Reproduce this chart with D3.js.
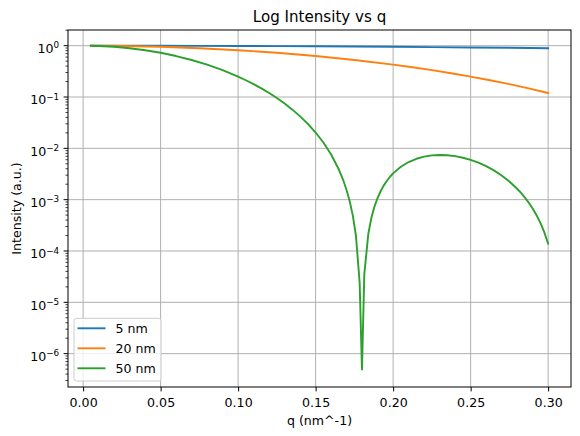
<!DOCTYPE html>
<html>
<head>
<meta charset="utf-8">
<script src="https://cdn.jsdelivr.net/npm/d3@7"></script>
<style>
  html, body { margin: 0; padding: 0; background: #ffffff; }
  svg { display: block; font-family: "DejaVu Sans", sans-serif; }
</style>
</head>
<body>
<svg id="chart" width="580" height="436"></svg>
<script>
// ---- data ----
const seriesNames = ["5 nm", "20 nm", "50 nm"];
const seriesColors = ["#1f77b4", "#ff7f0e", "#2ca02c"];

const q5 = [0.005, 0.025, 0.05, 0.075, 0.1, 0.125, 0.15, 0.175, 0.2, 0.225, 0.25, 0.275, 0.3];
const i5nm = [1.0000, 0.9992, 0.9969, 0.9930, 0.9876, 0.9806, 0.9722, 0.9623, 0.9511, 0.9384, 0.9244, 0.9092, 0.8928];

const q20 = [0.005, 0.025, 0.05, 0.075, 0.1, 0.125, 0.15, 0.175, 0.2, 0.2125, 0.225, 0.2375,
             0.25, 0.2625, 0.275, 0.2875, 0.3];
const i20nm = [0.9995, 0.9876, 0.9511, 0.8928, 0.8163, 0.7263, 0.6278, 0.5262, 0.4265, 0.3788, 0.3331, 0.2899,
               0.2495, 0.2120, 0.1778, 0.1470, 0.1195];

const q50 = [0.005, 0.01, 0.02, 0.03, 0.04, 0.05, 0.06, 0.07, 0.08, 0.09,
             0.10, 0.105, 0.11, 0.115, 0.12, 0.125, 0.13, 0.135, 0.14, 0.145,
             0.15, 0.155, 0.16, 0.165, 0.168, 0.17, 0.172, 0.174, 0.176, 0.1784,
             0.1799, 0.1814, 0.184, 0.186, 0.188, 0.19, 0.192, 0.194, 0.196, 0.198,
             0.20, 0.205, 0.21, 0.215, 0.22, 0.225, 0.23, 0.235, 0.24, 0.245,
             0.25, 0.255, 0.26, 0.265, 0.27, 0.275, 0.28, 0.2825, 0.285, 0.2875,
             0.29, 0.2925, 0.295, 0.2975, 0.30];
const i50nm = [0.9969, 0.9876, 0.9511, 0.8928, 0.8163, 0.7263, 0.6278, 0.5262, 0.4265, 0.3331,
               0.2495, 0.2120, 0.1778, 0.1470, 0.1195, 0.09535, 0.07448, 0.05673, 0.04194, 0.02988,
               0.02032, 0.01298, 0.007583, 0.003860, 0.002312, 0.001530, 9.279e-4, 4.895e-4, 1.991e-4, 2.42e-5,
               4.9e-7, 3.50e-5, 2.169e-4, 4.464e-4, 7.404e-4, 1.087e-3, 1.476e-3, 1.896e-3, 2.338e-3, 2.794e-3,
               3.255e-3, 4.385e-3, 5.409e-3, 6.259e-3, 6.890e-3, 7.279e-3, 7.424e-3, 7.336e-3, 7.038e-3, 6.565e-3,
               5.954e-3, 5.248e-3, 4.488e-3, 3.714e-3, 2.960e-3, 2.259e-3, 1.633e-3, 1.354e-3, 1.101e-3, 8.732e-4,
               6.726e-4, 4.991e-4, 3.528e-4, 2.332e-4, 1.396e-4];

const xTicks = [0.00, 0.05, 0.10, 0.15, 0.20, 0.25, 0.30];
const yTickExps = [0, -1, -2, -3, -4, -5, -6];

const titleText = "Log Intensity vs q";
const xLabelText = "q (nm^-1)";
const yLabelText = "Intensity (a.u.)";

// ---- layout ----
const plot = { left: 68, right: 571, top: 30, bottom: 387 };
const fontSize = 12.6, titleSize = 15.1;

const svg = d3.select("#chart");

const x = d3.scaleLinear().domain([-0.00975, 0.31475]).range([plot.left, plot.right]);
const y = d3.scaleLog().domain([2.24e-7, 2.02]).range([plot.bottom, plot.top]);

// grid
const grid = svg.append("g");
grid.selectAll("line.gx").data(xTicks).enter().append("line")
  .attr("x1", d => x(d)).attr("x2", d => x(d))
  .attr("y1", plot.top).attr("y2", plot.bottom)
  .attr("stroke", "#b0b0b0").attr("stroke-width", 1);
grid.selectAll("line.gy").data(yTickExps).enter().append("line")
  .attr("x1", plot.left).attr("x2", plot.right)
  .attr("y1", d => y(Math.pow(10, d))).attr("y2", d => y(Math.pow(10, d)))
  .attr("stroke", "#b0b0b0").attr("stroke-width", 1);

// clip
svg.append("clipPath").attr("id", "clip").append("rect")
  .attr("x", plot.left).attr("y", plot.top)
  .attr("width", plot.right - plot.left).attr("height", plot.bottom - plot.top);

const series = [
  { name: seriesNames[0], color: seriesColors[0], q: q5, v: i5nm },
  { name: seriesNames[1], color: seriesColors[1], q: q20, v: i20nm },
  { name: seriesNames[2], color: seriesColors[2], q: q50, v: i50nm }
];

const line = d3.line().x(d => x(d[0])).y(d => y(d[1]));
const lines = svg.append("g").attr("clip-path", "url(#clip)");
series.forEach(s => {
  lines.append("path")
    .datum(s.q.map((q, i) => [q, s.v[i]]))
    .attr("d", line)
    .attr("fill", "none")
    .attr("stroke", s.color)
    .attr("stroke-width", 1.9)
    .attr("stroke-linejoin", "round")
    .attr("stroke-linecap", "square");
});

// axes frame
svg.append("rect")
  .attr("x", plot.left).attr("y", plot.top)
  .attr("width", plot.right - plot.left).attr("height", plot.bottom - plot.top)
  .attr("fill", "none").attr("stroke", "#000").attr("stroke-width", 1);

// x axis
const xAxis = d3.axisBottom(x).tickValues(xTicks).tickSize(4.4).tickPadding(4.4)
  .tickFormat(d3.format(".2f"));
const gx = svg.append("g").attr("transform", `translate(0,${plot.bottom})`).call(xAxis);
gx.select(".domain").remove();
gx.selectAll("line").attr("stroke", "#000").attr("stroke-width", 1);
gx.selectAll("text").attr("font-family", "DejaVu Sans").attr("font-size", fontSize)
  .attr("fill", "#000").attr("dy", null).attr("y", 19.7);

// y axis: minor ticks
const minorVals = [];
for (let e = -7; e <= 0; e++) for (let m = 2; m <= 9; m++) {
  const v = m * Math.pow(10, e);
  if (v >= y.domain()[0] && v <= y.domain()[1]) minorVals.push(v);
}
svg.append("g").selectAll("line").data(minorVals).enter().append("line")
  .attr("x1", plot.left - 2.5).attr("x2", plot.left)
  .attr("y1", d => y(d)).attr("y2", d => y(d))
  .attr("stroke", "#000").attr("stroke-width", 0.75);

const gy = svg.append("g");
gy.selectAll("line").data(yTickExps).enter().append("line")
  .attr("x1", plot.left - 4.4).attr("x2", plot.left)
  .attr("y1", d => y(Math.pow(10, d))).attr("y2", d => y(Math.pow(10, d)))
  .attr("stroke", "#000").attr("stroke-width", 1);
const yl = gy.selectAll("text").data(yTickExps).enter().append("text")
  .attr("x", plot.left - 4.4 - 4.4)
  .attr("y", d => y(Math.pow(10, d)) + 7.4)
  .attr("text-anchor", "end")
  .attr("font-size", fontSize).attr("fill", "#000");
yl.append("tspan").text("10");
yl.append("tspan").attr("dy", -4.6).attr("font-size", 8.8)
  .text(d => (d < 0 ? "\u2212" + (-d) : "" + d));

// title & labels
svg.append("text").attr("x", (plot.left + plot.right) / 2).attr("y", 22.3)
  .attr("text-anchor", "middle").attr("font-size", titleSize).attr("fill", "#000")
  .text(titleText);
svg.append("text").attr("x", (plot.left + plot.right) / 2).attr("y", 425.4)
  .attr("text-anchor", "middle").attr("font-size", fontSize).attr("fill", "#000")
  .text(xLabelText);
svg.append("text")
  .attr("transform", `translate(21,${(plot.top + plot.bottom) / 2}) rotate(-90)`)
  .attr("text-anchor", "middle").attr("font-size", fontSize).attr("fill", "#000")
  .text(yLabelText);

// legend
const lg = svg.append("g");
lg.append("rect").attr("x", 74).attr("y", 318.3).attr("width", 87).attr("height", 62.7)
  .attr("rx", 2.5).attr("ry", 2.5)
  .attr("fill", "#ffffff").attr("fill-opacity", 0.8)
  .attr("stroke", "#cccccc").attr("stroke-width", 1);
series.forEach((s, i) => {
  const cy = 328.3 + i * 20;
  lg.append("line").attr("x1", 77.5).attr("x2", 105.5).attr("y1", cy).attr("y2", cy)
    .attr("stroke", s.color).attr("stroke-width", 1.9);
  lg.append("text").attr("x", 115.5).attr("y", cy + 4.5)
    .attr("font-size", fontSize).attr("fill", "#000").text(s.name);
});
</script>
</body>
</html>
